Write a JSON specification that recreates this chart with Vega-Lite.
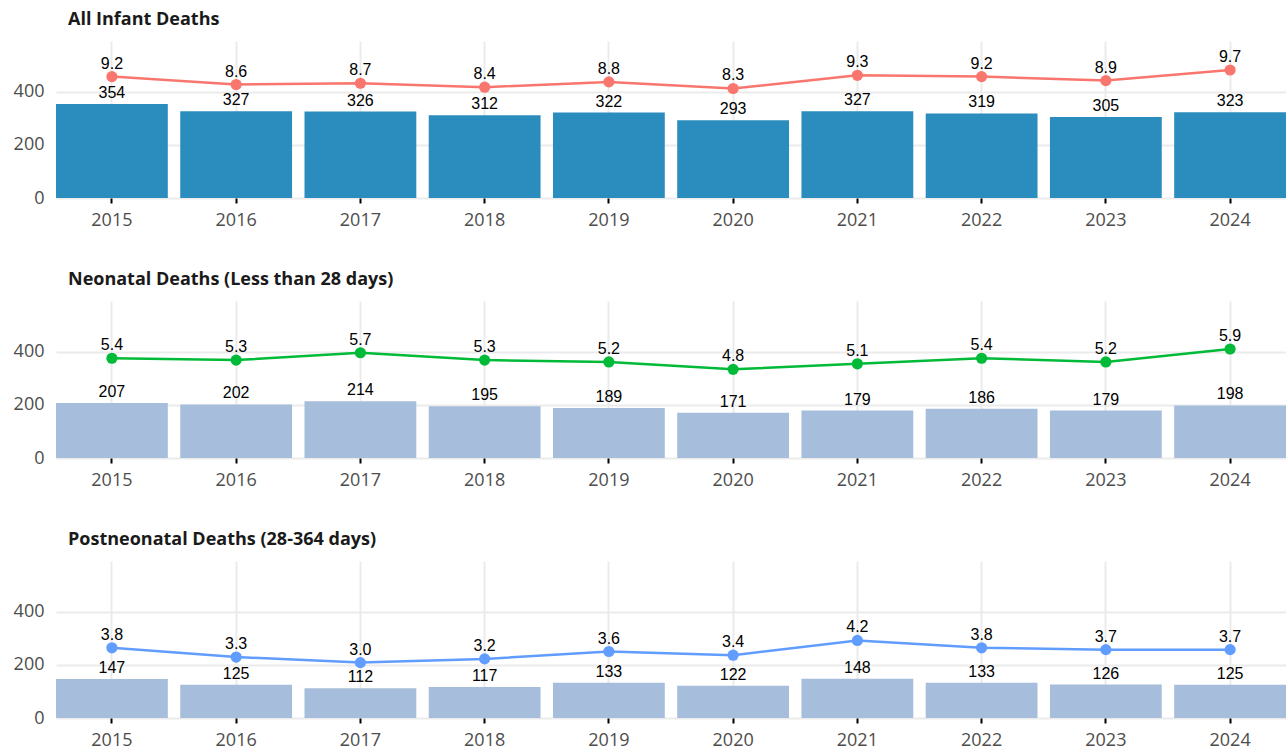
{
  "$schema": "https://vega.github.io/schema/vega-lite/v6.json",
  "padding": {"left": 0, "top": 11, "right": 0, "bottom": 0},
  "background": "white",
  "bounds": "flush",
  "spacing": 103,
  "config": {
    "view": {"stroke": null},
    "font": "Open Sans",
    "title": {"anchor": "start", "frame": "group", "dx": 12, "fontSize": 18, "font": "Open Sans", "fontWeight": "bold", "color": "#1a1a1a", "baseline": "alphabetic", "offset": 12},
    "axisX": {"title": null, "labelAngle": 0, "domain": false, "ticks": true, "tickColor": "#000000", "tickWidth": 2, "tickSize": 5, "grid": true, "gridColor": "#ebebeb", "gridWidth": 2, "bandPosition": 0.5, "labelFontSize": 18, "labelColor": "#4d4d4d", "labelPadding": 8, "labelFont": "Open Sans"},
    "axisY": {"title": null, "domain": false, "ticks": false, "grid": true, "gridColor": "#ebebeb", "gridWidth": 2, "values": [0, 200, 400], "labelFontSize": 18, "labelColor": "#4d4d4d", "labelPadding": 12, "minExtent": 56, "labelFont": "Open Sans"}
  },
  "datasets": {
    "infant": [
      {"year": "2015", "count": 354, "rate": 9.2},
      {"year": "2016", "count": 327, "rate": 8.6},
      {"year": "2017", "count": 326, "rate": 8.7},
      {"year": "2018", "count": 312, "rate": 8.4},
      {"year": "2019", "count": 322, "rate": 8.8},
      {"year": "2020", "count": 293, "rate": 8.3},
      {"year": "2021", "count": 327, "rate": 9.3},
      {"year": "2022", "count": 319, "rate": 9.2},
      {"year": "2023", "count": 305, "rate": 8.9},
      {"year": "2024", "count": 323, "rate": 9.7}
    ],
    "neonatal": [
      {"year": "2015", "count": 207, "rate": 5.4},
      {"year": "2016", "count": 202, "rate": 5.3},
      {"year": "2017", "count": 214, "rate": 5.7},
      {"year": "2018", "count": 195, "rate": 5.3},
      {"year": "2019", "count": 189, "rate": 5.2},
      {"year": "2020", "count": 171, "rate": 4.8},
      {"year": "2021", "count": 179, "rate": 5.1},
      {"year": "2022", "count": 186, "rate": 5.4},
      {"year": "2023", "count": 179, "rate": 5.2},
      {"year": "2024", "count": 198, "rate": 5.9}
    ],
    "postneonatal": [
      {"year": "2015", "count": 147, "rate": 3.8},
      {"year": "2016", "count": 125, "rate": 3.3},
      {"year": "2017", "count": 112, "rate": 3.0},
      {"year": "2018", "count": 117, "rate": 3.2},
      {"year": "2019", "count": 133, "rate": 3.6},
      {"year": "2020", "count": 122, "rate": 3.4},
      {"year": "2021", "count": 148, "rate": 4.2},
      {"year": "2022", "count": 133, "rate": 3.8},
      {"year": "2023", "count": 126, "rate": 3.7},
      {"year": "2024", "count": 125, "rate": 3.7}
    ]
  },
  "vconcat": [
    {
      "title": "All Infant Deaths",
      "width": 1230, "height": 157,
      "data": {"name": "infant"},
      "encoding": {"x": {"field": "year", "type": "ordinal", "scale": {"paddingInner": 0.1, "paddingOuter": 0}}},
      "layer": [
        {
          "encoding": {"y": {"field": "count", "type": "quantitative", "scale": {"domain": [0, 592], "nice": false}}},
          "layer": [
            {"mark": {"type": "bar", "color": "#2b8cbe"}},
            {"mark": {"type": "text", "dy": -6, "baseline": "alphabetic", "font": "Liberation Sans", "fontSize": 16, "color": "#000000"}, "encoding": {"text": {"field": "count", "type": "quantitative"}}},
            {"mark": {"type": "rule", "color": "#000000", "strokeWidth": 3}, "encoding": {"y": {"datum": 0}}}
          ]
        },
        {
          "encoding": {"y": {"field": "rate", "type": "quantitative", "scale": {"domain": [0, 11.9], "nice": false}, "axis": null}},
          "layer": [
            {"mark": {"type": "line", "color": "#f8766d", "strokeWidth": 2.5}},
            {"mark": {"type": "point", "filled": true, "opacity": 1, "color": "#f8766d", "size": 125}},
            {"mark": {"type": "text", "dy": -8, "baseline": "alphabetic", "font": "Liberation Sans", "fontSize": 16, "color": "#000000"}, "encoding": {"text": {"field": "rate", "type": "quantitative", "format": ".1f"}}}
          ]
        }
      ],
      "resolve": {"scale": {"y": "independent"}}
    },
    {
      "title": "Neonatal Deaths (Less than 28 days)",
      "width": 1230, "height": 157,
      "data": {"name": "neonatal"},
      "encoding": {"x": {"field": "year", "type": "ordinal", "scale": {"paddingInner": 0.1, "paddingOuter": 0}}},
      "layer": [
        {
          "encoding": {"y": {"field": "count", "type": "quantitative", "scale": {"domain": [0, 592], "nice": false}}},
          "layer": [
            {"mark": {"type": "bar", "color": "#a6bddb"}},
            {"mark": {"type": "text", "dy": -6, "baseline": "alphabetic", "font": "Liberation Sans", "fontSize": 16, "color": "#000000"}, "encoding": {"text": {"field": "count", "type": "quantitative"}}},
            {"mark": {"type": "rule", "color": "#000000", "strokeWidth": 3}, "encoding": {"y": {"datum": 0}}}
          ]
        },
        {
          "encoding": {"y": {"field": "rate", "type": "quantitative", "scale": {"domain": [0, 8.5], "nice": false}, "axis": null}},
          "layer": [
            {"mark": {"type": "line", "color": "#00ba38", "strokeWidth": 2.5}},
            {"mark": {"type": "point", "filled": true, "opacity": 1, "color": "#00ba38", "size": 125}},
            {"mark": {"type": "text", "dy": -8, "baseline": "alphabetic", "font": "Liberation Sans", "fontSize": 16, "color": "#000000"}, "encoding": {"text": {"field": "rate", "type": "quantitative", "format": ".1f"}}}
          ]
        }
      ],
      "resolve": {"scale": {"y": "independent"}}
    },
    {
      "title": "Postneonatal Deaths (28-364 days)",
      "width": 1230, "height": 157,
      "data": {"name": "postneonatal"},
      "encoding": {"x": {"field": "year", "type": "ordinal", "scale": {"paddingInner": 0.1, "paddingOuter": 0}}},
      "layer": [
        {
          "encoding": {"y": {"field": "count", "type": "quantitative", "scale": {"domain": [0, 592], "nice": false}}},
          "layer": [
            {"mark": {"type": "bar", "color": "#a6bddb"}},
            {"mark": {"type": "text", "dy": -6, "baseline": "alphabetic", "font": "Liberation Sans", "fontSize": 16, "color": "#000000"}, "encoding": {"text": {"field": "count", "type": "quantitative"}}},
            {"mark": {"type": "rule", "color": "#000000", "strokeWidth": 3}, "encoding": {"y": {"datum": 0}}}
          ]
        },
        {
          "encoding": {"y": {"field": "rate", "type": "quantitative", "scale": {"domain": [0, 8.5], "nice": false}, "axis": null}},
          "layer": [
            {"mark": {"type": "line", "color": "#619cff", "strokeWidth": 2.5}},
            {"mark": {"type": "point", "filled": true, "opacity": 1, "color": "#619cff", "size": 125}},
            {"mark": {"type": "text", "dy": -8, "baseline": "alphabetic", "font": "Liberation Sans", "fontSize": 16, "color": "#000000"}, "encoding": {"text": {"field": "rate", "type": "quantitative", "format": ".1f"}}}
          ]
        }
      ],
      "resolve": {"scale": {"y": "independent"}}
    }
  ]
}
